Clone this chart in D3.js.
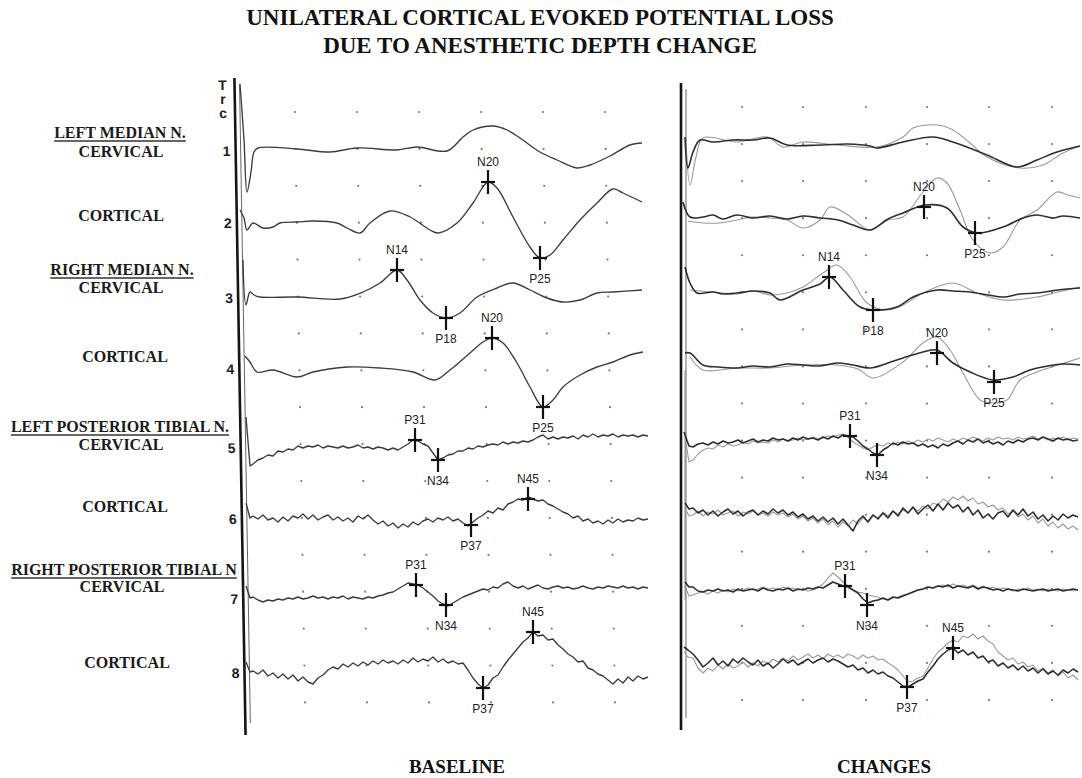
<!DOCTYPE html>
<html><head><meta charset="utf-8">
<script src="https://cdn.jsdelivr.net/npm/d3@7"></script>
<style>body{margin:0;background:#fff}svg{display:block}</style>
</head><body><svg id="c" width="1082" height="778"></svg>
<script>
// ---------------- DATA ----------------
const titleLines = ["UNILATERAL CORTICAL EVOKED POTENTIAL LOSS", "DUE TO ANESTHETIC DEPTH CHANGE"];
const panelNames = ["BASELINE", "CHANGES"];
const channelNumbers = ["1","2","3","4","5","6","7","8"];
const channelLabels = ["LEFT MEDIAN N.","CERVICAL","CORTICAL","RIGHT MEDIAN N.","CERVICAL","CORTICAL",
  "LEFT POSTERIOR TIBIAL N.","CERVICAL","CORTICAL","RIGHT POSTERIOR TIBIAL N","CERVICAL","CORTICAL"];
const headerLabels = ["LEFT MEDIAN N.","RIGHT MEDIAN N.","LEFT POSTERIOR TIBIAL N.","RIGHT POSTERIOR TIBIAL N"];
const traceTag = ["T","r","c"];
// grid dot sample positions (0..400 sample axis)
const gridColsBase = [47,109,171,233,295,357];
const gridColsChg = [54,115,178,239,301,364];

// ---- Baseline traces: [sample, amplitude] (amplitude positive = up)
const base1 = [[-8,66],[-4,10],[-1,-42],[3,-22],[6,-2],[10,2],[49,1],[82,-2],[109,2],[149,0],[169,3],[199,-1],[215,13],[225,20],[245,24],[259,20],[272,12],[292,-2],[309,-10],[329,-18],[342,-15],[362,-6],[382,5],[394,7]];
const base2 = [[-8,12],[-4,4],[-1,-8],[5,-1],[15,-6],[25,-5],[32,-1],[49,0],[65,1],[89,-1],[99,-6],[112,-11],[122,-1],[142,11],[162,5],[182,-8],[190,-11],[209,-1],[225,19],[240,40],[249,34],[265,5],[282,-25],[292,-36],[302,-33],[315,-18],[332,2],[349,19],[365,33],[375,29],[394,20]];
const base3 = [[-5,37],[-2,-8],[2,5],[6,2],[12,0],[49,0],[92,-2],[115,5],[132,14],[149,27],[159,17],[172,-3],[185,-16],[198,-21],[212,-16],[229,0],[249,9],[265,14],[282,7],[299,-1],[315,-5],[332,-3],[349,4],[365,5],[394,7]];
const base4 = [[-3,12],[2,6],[9,-4],[25,-2],[49,-9],[65,-4],[99,1],[132,0],[165,-4],[187,-12],[202,-2],[222,15],[235,26],[244,30],[255,25],[269,5],[282,-19],[295,-39],[305,-32],[315,-19],[332,-7],[349,1],[365,6],[382,13],[395,16]];
// noisy channels: lead-in points, then samples every 5 from sample 5
const base5Lead = [[-2,30],[2,-19]];
const base5 = [-17,-13,-11,-8,-9,-4,-5,-2,-3,1, -1,1,0,2,-1,1,0,-1,1,-1, 0,2,-1,0,-2,0,-1,-3,-1,-3, 0,3,7,6,3,1,-6,-13,-11,-8,
  -7,-4,-4,-1,-2,1,0,2,3,2, 5,3,5,4,6,5,7,10,12,8, 10,8,10,9,11,8,12,10,13,10, 12,11,13,10,12,11,12,10,12,11];
const base6Lead = [[-2,15],[2,0]];
const base6 = [2,-1,3,-2,0,-4,1,-3,2,0, 4,-1,3,-2,1,3,-2,1,-3,0, -4,2,-1,3,-2,-6,-3,-8,-5,-10, -6,-9,-4,-7,-3,-1,-4,0,-2,1,
  -3,-1,-5,-8,-4,0,3,7,5,10, 8,14,16,19,18,21,19,17,18,14, 12,9,6,4,0,2,-3,-1,-5,-3, -6,-2,-5,-1,-4,-2,-3,0,-2,-1];
const base7Lead = [[-2,12],[2,0]];
const base7 = [1,-2,-4,-2,-3,-1,-2,0,-1,1, -1,0,2,0,1,-1,1,0,2,-1, 1,0,-1,1,0,2,3,5,6,9, 12,15,14,13,10,6,2,-3,-6,-8,
  -5,-2,1,3,5,7,9,8,11,10, 14,16,12,10,12,9,11,13,10,9, 11,12,10,11,9,10,12,10,9,11, 10,12,11,10,12,10,11,9,11,10];
const base8Lead = [[-2,10],[2,0]];
const base8 = [1,-2,2,-4,-1,-6,-2,-7,-3,-9, -5,-10,-12,-6,-3,2,5,3,8,5, 9,6,10,7,11,8,12,9,11,8, 12,9,14,10,13,11,15,10,13,9,
  11,8,9,2,-6,-12,-16,-13,-6,-3, 5,12,18,24,30,34,40,36,37,32, 33,27,23,18,15,10,11,4,2,-2, -4,-8,-12,-7,-11,-5,-9,-4,-7,-5];

// ---- Changes traces: dark (current) and light (overlay)
const chgDark1 = [[-3,5],[0,-26],[5,-10],[12,2],[25,0],[45,2],[65,2],[82,4],[99,-3],[132,-3],[160,-2],[182,-4],[189,-6],[215,0],[245,5],[265,0],[299,-13],[329,-25],[349,-18],[369,-10],[392,-4]];
const chgLight1 = [[-2,4],[2,-43],[8,-15],[15,4],[49,0],[79,5],[95,-5],[115,0],[149,-3],[189,-5],[215,5],[225,14],[249,17],[265,12],[282,-1],[299,-15],[332,-26],[355,-23],[375,-11],[392,-4]];
const chgDark2 = [[-5,15],[2,0],[15,0],[25,2],[35,-2],[49,2],[65,-1],[82,1],[99,-2],[115,1],[132,-1],[150,-3],[165,-8],[182,-13],[200,-2],[215,4],[237,12],[259,9],[275,-10],[289,-16],[315,-10],[335,-1],[349,2],[365,-1],[375,1],[392,-1]];
const chgLight2 = [[0,-4],[15,-6],[32,-6],[49,-3],[65,0],[82,-1],[99,-3],[115,-11],[132,-3],[142,10],[160,2],[182,-13],[200,-3],[215,0],[235,25],[249,39],[259,34],[272,7],[285,-23],[302,-36],[315,-30],[332,-3],[349,7],[369,25],[380,22],[392,19]];
const chgDark3 = [[-3,25],[2,9],[9,-1],[25,0],[35,-2],[49,-1],[65,1],[82,-1],[92,-8],[115,2],[132,8],[142,15],[155,2],[172,-15],[185,-18],[209,-15],[225,-5],[249,2],[265,1],[282,0],[300,-3],[315,-5],[332,-2],[349,-1],[370,2],[392,4]];
const chgLight3 = [[2,2],[25,0],[49,-2],[65,1],[82,-3],[99,-1],[115,5],[135,19],[149,27],[162,15],[179,-11],[199,-18],[215,-13],[235,-1],[265,9],[289,-1],[315,-8],[349,-5],[370,0],[392,5]];
const chgDark4 = [[-3,12],[2,12],[15,0],[30,-2],[49,-3],[65,-1],[82,-2],[99,1],[115,0],[132,-1],[149,2],[165,0],[182,-3],[200,2],[215,7],[235,13],[249,15],[265,2],[282,-7],[305,-15],[325,-12],[342,-5],[360,-1],[375,1],[392,0]];
const chgLight4 = [[2,8],[15,-5],[49,-3],[82,-3],[115,0],[149,0],[170,-4],[185,-13],[215,3],[235,22],[249,28],[262,15],[275,-8],[292,-35],[305,-38],[319,-35],[332,-15],[349,-7],[370,0],[392,7]];
const chgDark5Lead = [[-4,8],[1,-6]];
const chgDark5 = [-7,-4,-3,-5,-2,-4,-1,-3,-2,0, -3,-1,1,-2,0,-1,2,0,1,-1, 2,0,3,1,2,0,3,1,4,2, 5,4,3,-1,-6,-9,-13,-15,-10,-7,
  -3,-5,-2,-4,-3,-6,-4,-7,-5,-8, -4,-6,-3,-1,-4,0,-2,1,-3,-1, -4,-2,-5,-1,-3,0,-2,1,2,0, 3,1,-1,2,0,1,-1,0];
const chgLight5Lead = [[-3,4],[1,-22]];
const chgLight5 = [-20,-14,-10,-8,-9,-5,-7,-4,-6,-5, -2,-4,-1,-3,-2,-3,0,-2,1,-1, 0,2,0,1,3,1,2,4,3,5, 6,3,-2,-5,-8,-10,-7,-5,-6,-3,
  -5,-2,-4,-1,-3,0,-2,1,-1,2, 0,-2,1,-1,2,0,3,1,-1,2, 0,3,1,2,0,3,1,2,4,1, 3,0,2,1,3,0,2,1];
const chgDark6Lead = [[-3,10],[1,4]];
const chgDark6 = [5,0,3,-2,2,-3,1,4,-1,2, -3,1,3,-2,2,-1,4,0,3,-2, 1,-4,-1,-6,-3,-8,-4,-9,-5,-11, -6,-12,-18,-8,-3,-9,-2,-6,0,-5,
  2,-3,5,0,6,-1,4,8,2,9, 3,10,5,8,1,6,-2,3,-5,-1, -6,0,2,-4,3,-2,4,-3,1,-6, -2,-8,-3,-7,-1,-5,-2,-4];
const chgLight6Lead = [[-3,5],[1,-3]];
const chgLight6 = [-2,2,-3,1,-1,3,-2,0,2,-3, 1,-1,2,-2,0,-3,1,-2,0,-4, -1,-6,-3,-8,-5,-10,-6,-12,-8,-14, -9,-13,-7,-11,-5,-8,-2,-5,1,-3,
  2,-1,3,0,5,2,7,4,10,8, 14,11,16,13,17,12,15,9,11,6, 8,3,5,-1,2,-4,-1,-7,-3,-10, -6,-13,-9,-15,-11,-16,-13,-17];
const chgDark7Lead = [[-3,8],[1,3]];
const chgDark7 = [3,-1,-2,0,-1,1,-1,0,-2,1, -1,0,1,-1,2,0,-1,1,0,2, -1,1,0,2,1,3,2,5,8,6, 4,3,0,-3,-9,-13,-11,-10,-8,-10,
  -7,-8,-6,-4,-2,0,1,3,2,4, 3,5,2,4,3,2,4,1,3,2, 0,1,-1,1,0,-1,1,0,-1,0, 1,-1,0,1,-1,0,1,0];
const chgLight7Lead = [[-3,4],[1,-6]];
const chgLight7 = [-5,-3,-2,-4,-1,-3,0,-2,1,-1, 0,2,0,1,3,1,2,0,3,1, 2,0,1,-1,0,2,6,12,17,13, 8,4,0,-2,-3,-5,-6,-7,-9,-10,
  -8,-7,-5,-4,-2,0,1,3,2,4, 5,3,6,4,5,3,5,2,4,1, 3,0,2,1,-1,1,0,2,0,1, -1,1,0,-1,1,0,-1,0];
const chgDark8Lead = [[-4,15],[0,12]];
const chgDark8 = [8,2,-5,-1,4,-3,1,-4,3,-1, 4,0,-3,2,-4,-1,-6,-2,3,-1, 2,-3,0,3,-1,2,4,0,3,1, -2,-5,-3,-8,-6,-11,-8,-12,-10,-14,
  -16,-20,-24,-25,-22,-19,-17,-10,-4,3, 8,12,14,9,12,7,10,4,6,0, 2,-4,-1,-6,-3,-8,-4,-9,-6,-11, -7,-12,-9,-13,-8,-11,-7,-10];
const chgLight8Lead = [[-4,10],[0,5]];
const chgLight8 = [4,-6,-11,-6,-9,-3,-7,-2,-6,-4, 0,-5,-1,-4,1,-2,3,0,4,1, 6,2,5,8,4,7,3,8,5,7, 4,8,6,3,7,4,6,2,3,-1,
  -4,-8,-14,-20,-19,-16,-14,-6,3,10, 14,19,22,20,26,24,28,23,26,21, 18,10,6,2,4,-2,0,-5,-3,-9, -6,-11,-8,-14,-10,-16,-13,-18];

// ---- Peak markers: channel, name, sample, amplitude
const baseMarkers = [
  [2,"N20",240,40],[2,"P25",292,-36],[3,"N14",149,27],[3,"P18",198,-21],
  [4,"N20",244,30],[4,"P25",295,-39],[5,"P31",167,7],[5,"N34",190,-13],
  [6,"P37",223,-7],[6,"N45",280,19],[7,"P31",168,13],[7,"N34",198,-7],
  [8,"P37",235,-16],[8,"N45",285,40]];
const chgMarkers = [
  [2,"N20",236,10],[2,"P25",287,-16],[3,"N14",141,15],[3,"P18",185,-18],
  [4,"N20",249,12],[4,"P25",306,-17],[5,"P31",162,4],[5,"N34",189,-15],
  [7,"P31",157,4],[7,"N34",179,-15],[8,"P37",219,-25],[8,"N45",265,14]];

// ---------------- DRAWING ----------------
const SERIF = '"Liberation Serif","Times New Roman",serif';
const SANS = '"Liberation Sans",Arial,sans-serif';
const svg = d3.select("#c");
svg.append("rect").attr("width",1082).attr("height",778).attr("fill","#fff");

const sampled = (lead, vals) => lead.concat(vals.map((v,i)=>[5+i*5, v]));

// title
svg.selectAll("text.title").data(titleLines).enter().append("text")
  .attr("x",540).attr("y",(d,i)=>25+i*28).attr("text-anchor","middle")
  .attr("font-family",SERIF).attr("font-weight","bold").attr("font-size",23).attr("fill","#111").text(d=>d);

// panel bottom names
const panelNameX = [457, 884];
svg.selectAll("text.pname").data(panelNames).enter().append("text")
  .attr("x",(d,i)=>panelNameX[i]).attr("y",773).attr("text-anchor","middle")
  .attr("font-family",SERIF).attr("font-weight","bold").attr("font-size",19).attr("fill","#111").text(d=>d);

// left channel labels
const labelY = [138,157,221,275,293,362,432,450,512,575,592,668];
const labelX = [120,121,121,122,121,125,120,121,125,124,122,127];
const lg = svg.append("g");
channelLabels.forEach((t,i)=>{
  const tx = lg.append("text").attr("x",labelX[i]).attr("y",labelY[i]).attr("text-anchor","middle")
    .attr("font-family",SERIF).attr("font-weight","bold").attr("font-size",16).attr("fill","#1a1a1a").text(t);
  if (headerLabels.includes(t) && [0,3,6,9].includes(i)) {
    const w = tx.node().getComputedTextLength();
    lg.append("line").attr("x1",labelX[i]-w/2).attr("x2",labelX[i]+w/2)
      .attr("y1",labelY[i]+3).attr("y2",labelY[i]+3).attr("stroke","#333").attr("stroke-width",1.4);
  }
});

const panels = [
  { x0:248, levels:[150,222,297,368,447,518,598,672], gridTop:112, gridStep:36.9, cols:gridColsBase,
    skew:0.97, axisX:235, axisTop:78, axisBot:735,
    traces:[ {pts:base1,ch:1},{pts:base2,ch:2},{pts:base3,ch:3},{pts:base4,ch:4},
             {pts:sampled(base5Lead,base5),ch:5,noisy:true},{pts:sampled(base6Lead,base6),ch:6,noisy:true},
             {pts:sampled(base7Lead,base7),ch:7,noisy:true},{pts:sampled(base8Lead,base8),ch:8,noisy:true} ].map(t=>Object.assign(t,{kind:"base"})),
    markers: baseMarkers },
  { x0:688, levels:[142,217,292,365,440,513,590,662], gridTop:107, gridStep:37.06, cols:gridColsChg,
    skew:0, axisX:681, axisTop:83, axisBot:730,
    traces:[
      {pts:chgLight1,ch:1,kind:"light"},{pts:chgLight2,ch:2,kind:"light"},{pts:chgLight3,ch:3,kind:"light"},{pts:chgLight4,ch:4,kind:"light"},
      {pts:sampled(chgLight5Lead,chgLight5),ch:5,kind:"light",noisy:true},{pts:sampled(chgLight6Lead,chgLight6),ch:6,kind:"light",noisy:true},
      {pts:sampled(chgLight7Lead,chgLight7),ch:7,kind:"light",noisy:true},{pts:sampled(chgLight8Lead,chgLight8),ch:8,kind:"light",noisy:true},
      {pts:chgDark1,ch:1,kind:"dark"},{pts:chgDark2,ch:2,kind:"dark"},{pts:chgDark3,ch:3,kind:"dark"},{pts:chgDark4,ch:4,kind:"dark"},
      {pts:sampled(chgDark5Lead,chgDark5),ch:5,kind:"dark",noisy:true},{pts:sampled(chgDark6Lead,chgDark6),ch:6,kind:"dark",noisy:true},
      {pts:sampled(chgDark7Lead,chgDark7),ch:7,kind:"dark",noisy:true},{pts:sampled(chgDark8Lead,chgDark8),ch:8,kind:"dark",noisy:true} ],
    markers: chgMarkers }
];

const style = { base:{c:"#3c3c3c",w:1.35}, dark:{c:"#2e2e2e",w:1.6}, light:{c:"#9a9a9a",w:1.1} };

panels.forEach((p,pi)=>{
  const x = d3.scaleLinear().domain([0,400]).range([p.x0, p.x0+400]);
  const yRow = ch => d3.scaleLinear().domain([-50,50]).range([p.levels[ch-1]+50, p.levels[ch-1]-50]);
  const rowIdx = d3.range(17);
  const yGrid = d3.scaleLinear().domain([0,16]).range([p.gridTop, p.gridTop+16*p.gridStep]);

  // decor group (grid, axis, numbers) with slight scan skew
  const deco = svg.append("g").attr("transform", `translate(0,${p.gridTop}) skewX(${p.skew}) translate(0,${-p.gridTop})`);
  rowIdx.forEach(r=>{
    deco.selectAll(null).data(p.cols).enter().append("circle")
      .attr("cx",d=>x(d)).attr("cy",yGrid(r)).attr("r",1.1).attr("fill","#7a7a7a");
  });
  deco.append("line").attr("x1",p.axisX).attr("x2",p.axisX).attr("y1",p.axisTop).attr("y2",p.axisBot)
    .attr("stroke","#151515").attr("stroke-width",2.6);
  deco.append("line").attr("x1",p.axisX+5).attr("x2",p.axisX+5).attr("y1",p.axisTop+6).attr("y2",p.axisBot-12)
    .attr("stroke","#666").attr("stroke-width",1);
  if (pi===0) {
    deco.selectAll("text.num").data(channelNumbers).enter().append("text")
      .attr("x",p.axisX-9).attr("y",(d,i)=>p.levels[i]+6).attr("text-anchor","middle")
      .attr("font-family",SANS).attr("font-weight","bold").attr("font-size",14).attr("fill","#222").text(d=>d);
    deco.selectAll("text.tag").data(traceTag).enter().append("text")
      .attr("x",p.axisX-12).attr("y",(d,i)=>90+i*14).attr("text-anchor","middle")
      .attr("font-family",SANS).attr("font-weight","bold").attr("font-size",14).attr("fill","#222").text(d=>d);
  } else {
    deco.append("line").attr("x1",p.axisX+4).attr("x2",p.axisX+4).attr("y1",370).attr("y2",600)
      .attr("stroke","#888").attr("stroke-width",1);
  }

  // traces
  const tg = svg.append("g");
  p.traces.forEach(t=>{
    const y = yRow(t.ch);
    const line = d3.line().x(d=>x(d[0])).y(d=>y(d[1]))
      .curve(t.noisy ? d3.curveLinear : d3.curveCatmullRom.alpha(0.5));
    tg.append("path").attr("d",line(t.pts)).attr("fill","none")
      .attr("stroke",style[t.kind].c).attr("stroke-width",style[t.kind].w).attr("stroke-linejoin","round");
  });

  // markers
  const mg = svg.append("g");
  p.markers.forEach(([ch,name,s,v])=>{
    const y = yRow(ch), cx = x(s), cy = y(v);
    mg.append("line").attr("x1",cx).attr("x2",cx).attr("y1",cy-12).attr("y2",cy+12).attr("stroke","#111").attr("stroke-width",2.2);
    mg.append("line").attr("x1",cx-7).attr("x2",cx+7).attr("y1",cy).attr("y2",cy).attr("stroke","#111").attr("stroke-width",2.2);
    mg.append("text").attr("x",cx).attr("y", v>=0 ? cy-16 : cy+25).attr("text-anchor","middle")
      .attr("font-family",SANS).attr("font-size",12).attr("fill","#222").text(name);
  });
});
</script></body></html>
